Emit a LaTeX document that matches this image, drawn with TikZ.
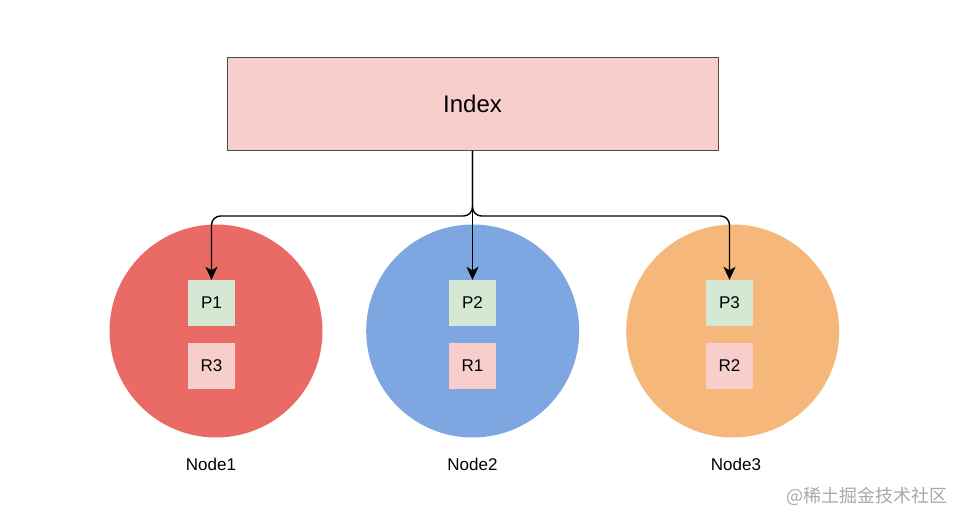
\documentclass[tikz,border=0pt]{standalone}
\usepackage{fontspec}
\setmainfont{Liberation Sans}
\newfontfamily\cjk{Noto Sans CJK SC}
\usetikzlibrary{arrows.meta}
\definecolor{idxfill}{HTML}{F8CECC}
\definecolor{idxdraw}{HTML}{4D4D4D}
\definecolor{redc}{HTML}{EA6B66}
\definecolor{bluec}{HTML}{7EA6E0}
\definecolor{orangec}{HTML}{F5B87A}
\definecolor{pfill}{HTML}{D5E8D4}
\definecolor{rfill}{HTML}{F8CECC}
\definecolor{wm}{HTML}{A8A8A8}
\begin{document}
\begin{tikzpicture}[x=1pt,y=-1pt,
  idx/.style={draw=idxdraw, line width=1pt, fill=idxfill, minimum width=491pt, minimum height=93pt, inner sep=0pt, font=\fontsize{24}{28}\selectfont},
  host/.style={circle, draw=none, minimum size=213pt, inner sep=0pt},
  pbox/.style={fill=pfill, minimum width=47pt, minimum height=46pt, inner sep=0pt, font=\fontsize{17}{20}\selectfont},
  rbox/.style={fill=rfill, minimum width=47pt, minimum height=46pt, inner sep=0pt, font=\fontsize{17}{20}\selectfont},
  lab/.style={font=\fontsize{17}{20}\selectfont, inner sep=0pt},
  conn/.style={line width=1.4pt, rounded corners=9pt, -{Stealth[length=13pt,width=12pt,inset=3.5pt]}}
]
\useasboundingbox (0,0) rectangle (966,528);
\node[idx] (index) at (472.5,103.5) {Index};

\node[host, fill=redc] (c1) at (216,331) {};
\node[host, fill=bluec] (c2) at (472.7,331) {};
\node[host, fill=orangec] (c3) at (732.7,331) {};

\node[pbox] (p1) at (211.5,303) {P1};
\node[rbox] (r3) at (211.5,366) {R3};
\node[pbox] (p2) at (472.5,303) {P2};
\node[rbox] (r1) at (472.5,366) {R1};
\node[pbox] (p3) at (729.5,303) {P3};
\node[rbox] (r2) at (729.5,366) {R2};

\node[lab] (n1) at (211,464) {Node1};
\node[lab] (n2) at (472.5,464) {Node2};
\node[lab] (n3) at (736,464) {Node3};

\coordinate (j) at (472.5,216);
\draw[conn] (index.south) -- (j) -| (p1.north);
\draw[conn] (index.south) -- (p2.north);
\draw[conn] (index.south) -- (j) -| (p3.north);

\node[font=\cjk\fontsize{18}{21}\selectfont, text=wm, inner sep=0pt, anchor=east] (wmk) at (948,496) {@稀土掘金技术社区};
\end{tikzpicture}
\end{document}
